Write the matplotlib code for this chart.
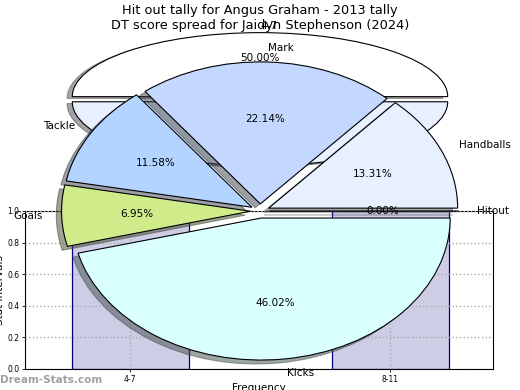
import matplotlib
matplotlib.use("Agg")
import matplotlib.pyplot as plt

# main pie: stat breakdown
stat_labels = ["Handballs", "Mark", "Tackle", "Goals", "Kicks", "Hitout"]
stat_pct = [13.31, 22.14, 11.58, 6.95, 46.02, 0.00]
stat_colors = ["#e8f0ff", "#c4d8ff", "#b3d4ff", "#d0ec8a", "#d9ffff", "#ffffff"]

# hit out tally pie
hit_labels = ["4-7", "8-11"]
hit_vals = [1, 1]
hit_colors = ["#ffffff", "#e8f0ff"]

# DT score spread bars
bins = ["4-7", "8-11"]
counts = [1, 1]

W, H = 520, 390
fig = plt.figure(figsize=(5.2, 3.9), dpi=100)


def px_axes(left, top, right, bottom):
    return fig.add_axes([left / W, 1 - bottom / H, (right - left) / W, (bottom - top) / H])


# bar chart (behind)
axb = px_axes(25, 211, 493, 369)
axb.bar(range(len(bins)), counts, width=0.45, color="#cdcde6", edgecolor="#000080", linewidth=0.9)
axb.set_xlim(-0.404, 1.396)
axb.set_ylim(0, 1.0)
axb.set_xticks(range(len(bins)))
axb.set_xticklabels(bins)
axb.set_yticks([0, 0.2, 0.4, 0.6, 0.8, 1.0])
axb.set_yticklabels(["0.0", "0.2", "0.4", "0.6", "0.8", "1.0"])
axb.tick_params(labelsize=5.5, length=2, width=0.6, pad=2)
axb.set_axisbelow(False)
axb.grid(True, linestyle=":", color="#aaaaaa", linewidth=1)
axb.set_ylabel("Stat Intervals", fontsize=7.5)
axb.set_xlabel("Frequency", fontsize=7.5)
axb.yaxis.set_label_coords((5 - 25) / 468, 0.5)
axb.xaxis.set_label_coords(0.5, -(383 - 369) / 158)

# hit out pie
axh = px_axes(260 - 2.5 * 187.7 / 2, 99.2 - 2.5 * 64 / 2, 260 + 2.5 * 187.7 / 2, 99.2 + 2.5 * 64 / 2)
_, hit_texts, _ = axh.pie(hit_vals, labels=hit_labels, colors=hit_colors, explode=[0.04, 0.04],
                          autopct="%1.2f%%", shadow=True, startangle=0,
                          wedgeprops={"edgecolor": "black", "linewidth": 0.8},
                          textprops={"fontsize": 7.5})
hit_texts[0].set_horizontalalignment("left")
axh.set_aspect("auto")
axh.set_xlim(-1.25, 1.25)
axh.set_ylim(-1.25, 1.25)

# main pie
axp = px_axes(260 - 2.5 * 189 / 2, 211 - 2.5 * 142 / 2, 260 + 2.5 * 189 / 2, 211 + 2.5 * 142 / 2)
axp.pie(stat_pct, labels=stat_labels, colors=stat_colors, explode=[0.05] * 6,
        autopct="%1.2f%%", shadow=True, startangle=0,
        wedgeprops={"edgecolor": "black", "linewidth": 0.8},
        textprops={"fontsize": 7.5})
axp.set_aspect("auto")
axp.set_xlim(-1.25, 1.25)
axp.set_ylim(-1.25, 1.25)

fig.text(0.5, 1 - 10.5 / H, "Hit out tally for Angus Graham - 2013 tally", ha="center", va="center", fontsize=9.3)
fig.text(0.5, 1 - 25.5 / H, "DT score spread for Jaidyn Stephenson (2024)", ha="center", va="center", fontsize=9.3)
fig.text(0.0, 1 - 380 / H, "Dream-Stats.com", ha="left", va="center", fontsize=7.5,
         fontweight="bold", color="#a0a0a0")

fig.savefig("out.png", dpi=100)
